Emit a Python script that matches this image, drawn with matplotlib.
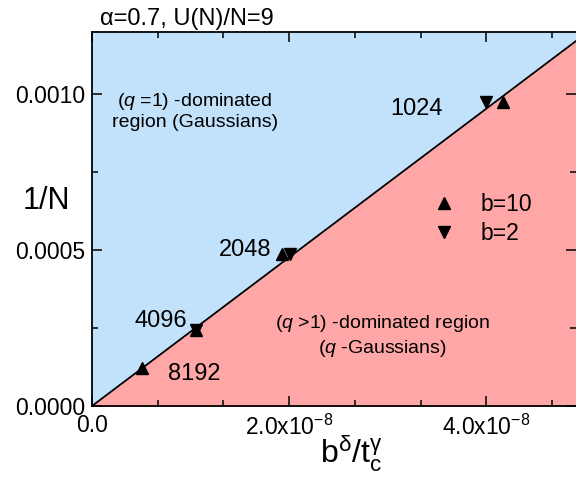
import matplotlib
matplotlib.use("Agg")
import matplotlib.pyplot as plt
import numpy as np
from matplotlib.ticker import FixedLocator, FuncFormatter

plt.rcParams['font.family'] = ['Liberation Sans', 'DejaVu Sans']
plt.rcParams['mathtext.fontset'] = 'custom'
plt.rcParams['mathtext.rm'] = 'Liberation Sans'
plt.rcParams['mathtext.it'] = 'Liberation Sans:italic'
plt.rcParams['mathtext.bf'] = 'Liberation Sans:bold'

# ---- data ----
N_labels = ["1024", "2048", "4096", "8192"]
N_b10 = [1024, 2048, 4096, 8192]
x_b10 = [4.17e-8, 1.93e-8, 1.06e-8, 0.51e-8]
N_b2 = [1024, 2048, 4096]
x_b2 = [4.00e-8, 2.01e-8, 1.06e-8]
boundary_slope = 2.385e4  # 1/N = slope * b^delta / t_c^gamma
xlim = (0, 4.91e-8)
ylim = (0, 0.0012)
xticks_major = [0, 2e-8, 4e-8]
yticks_major = [0.0, 0.0005, 0.0010]

blue = '#c2e1fb'
pink = '#ffa7a7'

fig = plt.figure(figsize=(5.76, 4.82), dpi=100)
ax = fig.add_axes([92/576, 1-406/482, 1-92/576, (406-32)/482])

xs = np.array(xlim)
ys = boundary_slope * xs
ax.fill_between(xs, ys, ylim[1], color=blue, lw=0, zorder=0)
ax.fill_between(xs, ylim[0], ys, color=pink, lw=0, zorder=0)
ax.plot(xs, ys, color='black', lw=1.3, zorder=2)

y_b10 = [1.0/n for n in N_b10]
y_b2 = [1.0/n for n in N_b2]
ax.plot(x_b10, y_b10, ls='none', marker='^', color='black', ms=9, label='b=10', zorder=3)
ax.plot(x_b2, y_b2, ls='none', marker='v', color='black', ms=9, label='b=2', zorder=3)

ax.set_xlim(*xlim)
ax.set_ylim(*ylim)

ax.xaxis.set_major_locator(FixedLocator(xticks_major))
ax.xaxis.set_minor_locator(FixedLocator([i * 2e-8 / 3 for i in range(0, 8)]))
ax.yaxis.set_major_locator(FixedLocator(yticks_major))
ax.yaxis.set_minor_locator(FixedLocator([0.00025, 0.00075]))

def xfmt(v, pos):
    if v == 0:
        return "0.0"
    m = v / 1e-8
    return r"%.1fx10$^{-8}$" % m
ax.xaxis.set_major_formatter(FuncFormatter(xfmt))
ax.yaxis.set_major_formatter(FuncFormatter(lambda v, p: "%.4f" % v))

ax.tick_params(which='both', direction='in', top=True, right=True, width=1.1)
ax.tick_params(which='major', length=7, labelsize=16.5)
ax.tick_params(axis='x', which='major', pad=6)
ax.tick_params(axis='y', which='major', pad=5)
ax.tick_params(which='minor', length=4)
ax.spines['right'].set_visible(False)
for s in ['left', 'bottom', 'top']:
    ax.spines[s].set_linewidth(1.3)

ax.set_ylabel("1/N", fontsize=22, rotation=0, ha='center', va='center')
ax.yaxis.set_label_coords((46 - 92) / 484, (406 - 201) / 374)
ax.set_xlabel(r"b$^{\mathrm{δ}}$/t$_{\mathrm{c}}^{\mathrm{γ}}$", fontsize=23,
              ha='center', va='top')
ax.xaxis.set_label_coords((351 - 92) / 484, (406 - 433) / 374)

fig.text(100/576, 1-25/482, "α=0.7, U(N)/N=9", fontsize=17, ha='left', va='baseline')

# point labels (pixel positions converted to axes fraction)
def axpos(px, py):
    return ((px - 92) / (576 - 92), (406 - py) / (406 - 32))

label_pix = [(417, 109), (245, 250), (161, 321), (194, 374)]
for lab, (px, py) in zip(N_labels, label_pix):
    ax.text(*axpos(px, py), lab, transform=ax.transAxes, fontsize=17,
            ha='center', va='center')

ax.text(*axpos(195, 111), "($\\mathit{q}$ =1) -dominated\nregion (Gaussians)",
        transform=ax.transAxes, fontsize=14, ha='center', va='center',
        linespacing=1.15)
ax.text(*axpos(382, 336), "($\\mathit{q}$ >1) -dominated region\n($\\mathit{q}$ -Gaussians)",
        transform=ax.transAxes, fontsize=14, ha='center', va='center',
        linespacing=1.3)

ax.legend(loc='center left', bbox_to_anchor=axpos(410, 219), frameon=False,
          fontsize=16.5, handlelength=1.2, handletextpad=1.0, labelspacing=0.25)

fig.savefig("out.png", dpi=100)
